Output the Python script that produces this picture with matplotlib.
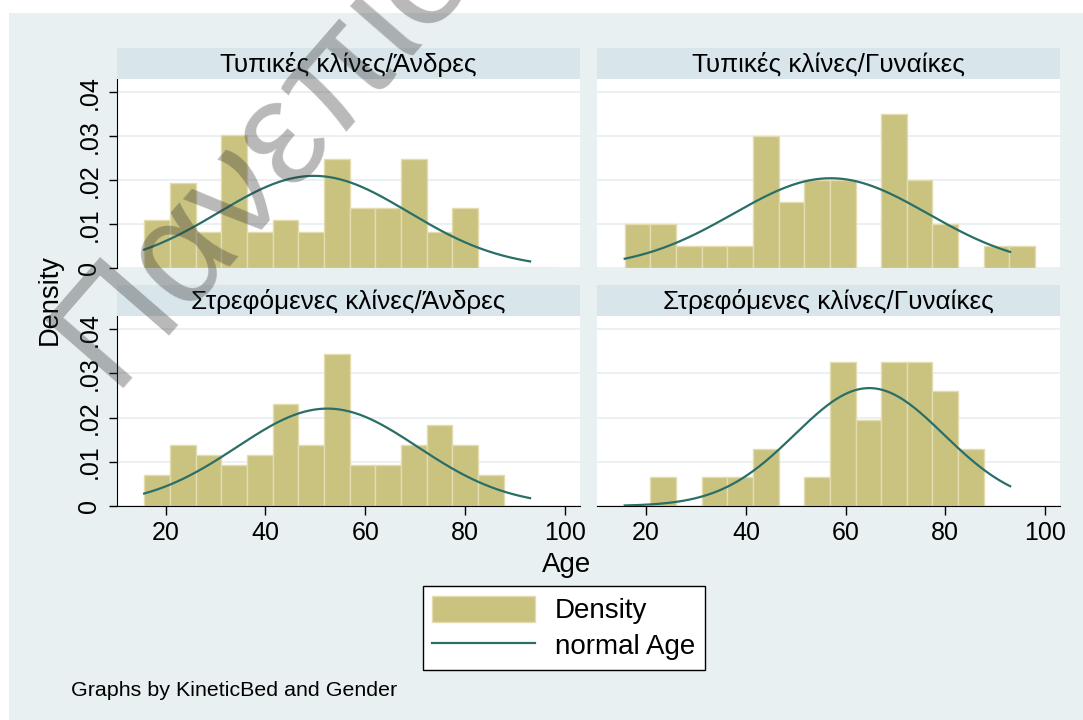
import numpy as np
import matplotlib
matplotlib.use("Agg")
import matplotlib.pyplot as plt
from matplotlib.patches import Rectangle, Patch
from matplotlib.lines import Line2D

plt.rcParams['font.family'] = ['Liberation Sans', 'DejaVu Sans']

# histogram bins (common to all panels)
age_min, age_max, n_bins = 15.7, 98.0, 16
curve_min, curve_max = 15.7, 93.0

# densities per bin
dens_std_men = [0.011, 0.0193, 0.00825, 0.0302, 0.00825, 0.011, 0.00825, 0.0248,
                0.0137, 0.0137, 0.0248, 0.00825, 0.0137, 0, 0, 0]
dens_std_women = [0.010, 0.010, 0.005, 0.005, 0.005, 0.030, 0.015, 0.020,
                  0.020, 0, 0.035, 0.020, 0.010, 0, 0.005, 0.005]
dens_kin_men = [0.007, 0.0138, 0.0116, 0.0092, 0.0116, 0.0231, 0.0138, 0.0345,
                0.0092, 0.0092, 0.0138, 0.0184, 0.0138, 0.007, 0, 0]
dens_kin_women = [0, 0.0065, 0, 0.0065, 0.0065, 0.013, 0, 0.0065,
                  0.0326, 0.0194, 0.0326, 0.0326, 0.026, 0.013, 0, 0]

# normal curve parameters (mean, sd) per panel
norm_std_men = (49.7, 19.0)
norm_std_women = (57.0, 19.5)
norm_kin_men = (52.4, 18.1)
norm_kin_women = (64.75, 14.95)

titles = ['Τυπικές κλίνες/Άνδρες', 'Τυπικές κλίνες/Γυναίκες',
          'Στρεφόμενες κλίνες/Άνδρες', 'Στρεφόμενες κλίνες/Γυναίκες']
yticks = [0, 0.01, 0.02, 0.03, 0.04]
ytick_labels = ['0', '.01', '.02', '.03', '.04']
xticks = [20, 40, 60, 80, 100]

BAR = '#CAC380'
BAR_EDGE = '#E2DCAE'
LINE = '#2A6E68'
OUTER = '#E8F0F2'
STRIP = '#D8E5EB'
GRID = '#E6EEF1'

W, H = 1083, 720
fig = plt.figure(figsize=(W / 100, H / 100), dpi=100, facecolor='white')


def rect(x0, y0, x1, y1):
    return [x0 / W, 1 - y1 / H, (x1 - x0) / W, (y1 - y0) / H]


fig.patches.append(Rectangle((9 / W, 0), 1 - 9 / W, 1 - 13 / H, transform=fig.transFigure,
                             facecolor=OUTER, edgecolor='none', zorder=-5))

edges = np.linspace(age_min, age_max, n_bins + 1)
xs = np.linspace(curve_min, curve_max, 300)

panels = [
    (dens_std_men, norm_std_men, (116.7, 79, 580, 268.3), (47.7, 79), True, False),
    (dens_std_women, norm_std_women, (597.3, 79, 1060, 268.3), (47.7, 79), False, False),
    (dens_kin_men, norm_kin_men, (116.7, 316, 580, 506), (285, 316), True, True),
    (dens_kin_women, norm_kin_women, (597.3, 316, 1060, 506), (285, 316), False, True),
]

for (dens, (mu, sd), (x0, y0, x1, y1), (s0, s1), left, bottom), title in zip(panels, titles):
    ax = fig.add_axes(rect(x0, y0, x1, y1))
    ax.set_facecolor('white')
    ax.bar(edges[:-1], dens, width=np.diff(edges), align='edge', color=BAR,
           edgecolor=BAR_EDGE, linewidth=1.0, zorder=2)
    pdf = np.exp(-0.5 * ((xs - mu) / sd) ** 2) / (sd * np.sqrt(2 * np.pi))
    ax.plot(xs, pdf, color=LINE, lw=1.6, zorder=3)
    ax.set_xlim(10.2, 103)
    ax.set_ylim(0, 0.043)
    ax.set_yticks(yticks)
    ax.grid(axis='y', color=GRID, lw=1.2, zorder=0)
    ax.set_axisbelow(True)
    for sp in ['top', 'right']:
        ax.spines[sp].set_visible(False)
    ax.spines['left'].set_visible(left)
    ax.spines['bottom'].set_visible(bottom)
    ax.tick_params(axis='y', left=left, labelleft=left, length=6, width=1,
                   pad=5, labelsize=18)
    if left:
        ax.set_yticklabels(ytick_labels, rotation=90, va='center')
    ax.set_xticks(xticks)
    ax.tick_params(axis='x', bottom=bottom, labelbottom=bottom, length=6.5,
                   width=1, pad=4, labelsize=18)
    # strip title
    sax = fig.add_axes(rect(x0, s0, x1, s1))
    sax.set_facecolor(STRIP)
    sax.set_xticks([])
    sax.set_yticks([])
    for sp in sax.spines.values():
        sp.set_visible(False)
    sax.text(0.5, 0.47, title, ha='center', va='center', fontsize=18.8,
             transform=sax.transAxes)

fig.text(50 / W, 1 - 300 / H, 'Density', rotation=90, ha='center', va='center', fontsize=19.6)
fig.text(567 / W, 1 - 565 / H, 'Age', ha='center', va='center', fontsize=20)
fig.text(71 / W, 1 - 690 / H, 'Graphs by KineticBed and Gender', ha='left', va='center',
         fontsize=15.4)

handles = [Patch(facecolor=BAR, edgecolor=BAR_EDGE, linewidth=1.0),
           Line2D([], [], color=LINE, lw=1.6)]
leg = fig.legend(handles, ['Density', 'normal Age'], loc='upper left',
                 bbox_to_anchor=(422.7 / W, 1 - 586 / H), borderaxespad=0,
                 fontsize=20, frameon=True, fancybox=False, edgecolor='black',
                 framealpha=1, handlelength=3.7, handleheight=1.1,
                 handletextpad=0.7, borderpad=0.35, labelspacing=0.25)
leg.get_frame().set_linewidth(1.0)

fig.text(112 / W, 1 - 388 / H, 'Πανεπιστ', rotation=49, rotation_mode='anchor',
         ha='left', va='baseline', fontsize=108, color='#323232', alpha=0.34, zorder=10)

fig.savefig('out.png', dpi=100, facecolor='white')
